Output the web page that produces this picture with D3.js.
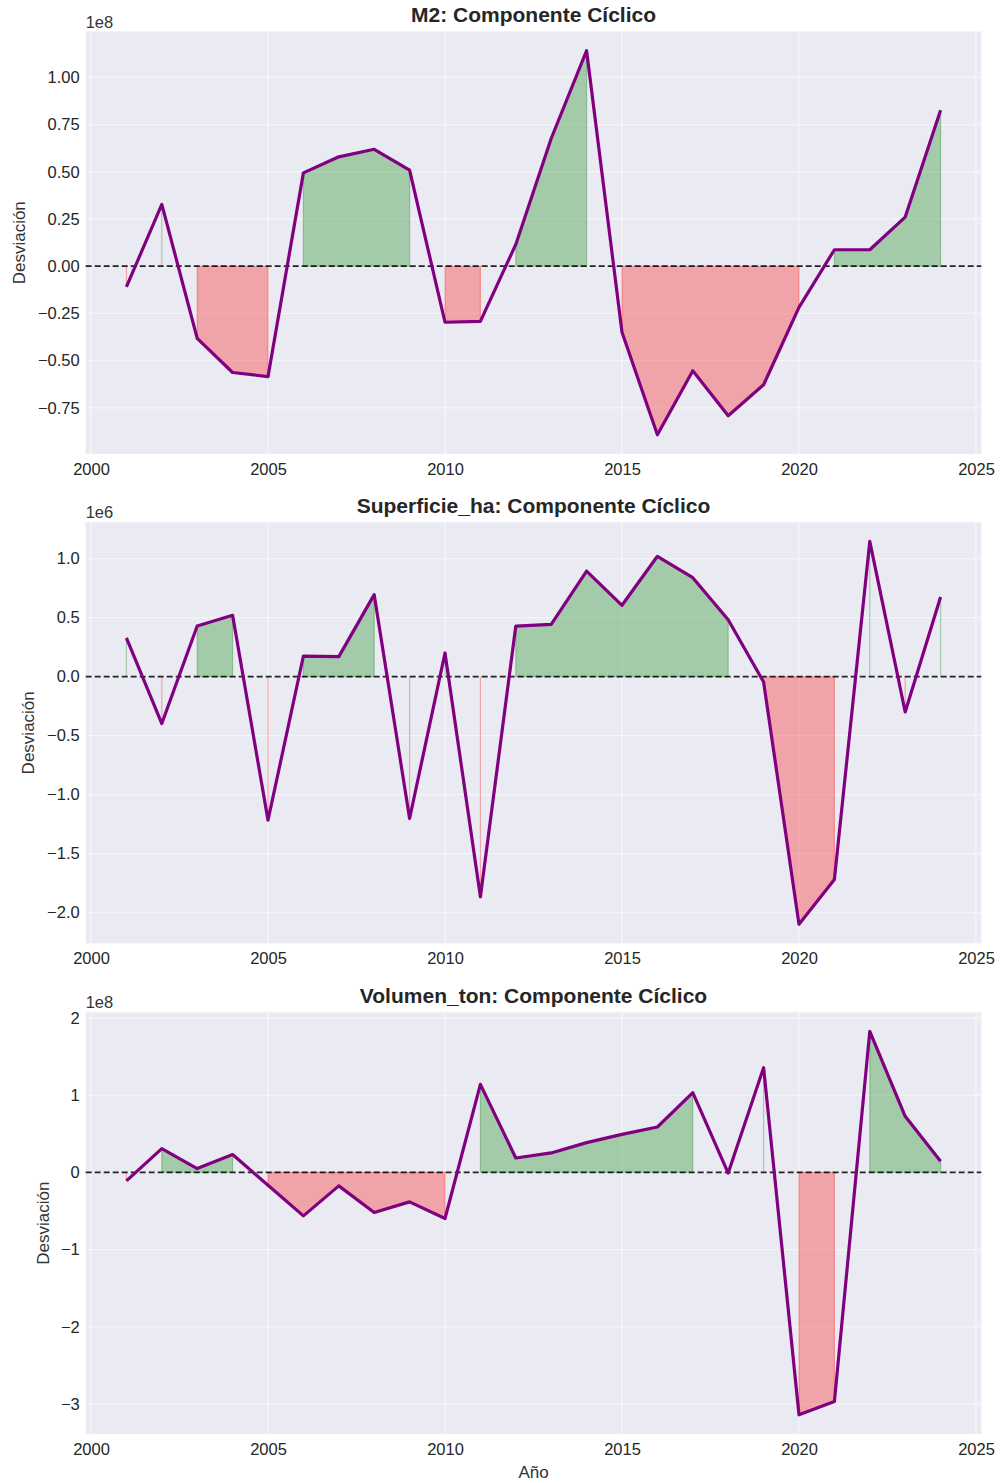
<!DOCTYPE html>
<html>
<head>
<meta charset="utf-8">
<script src="https://cdn.jsdelivr.net/npm/d3@7"></script>
<style>
  html, body { margin: 0; padding: 0; background: #ffffff; }
  svg { display: block; }
  text { font-family: "Liberation Sans", Arial, sans-serif; fill: #262626; }
</style>
</head>
<body>
<svg id="chart" width="1000" height="1483"></svg>
<script>
// ---------------- DATA ----------------
const years = [2001,2002,2003,2004,2005,2006,2007,2008,2009,2010,2011,2012,
               2013,2014,2015,2016,2017,2018,2019,2020,2021,2022,2023,2024];

// M2 cyclical component (units of 1e8)
const m2Cycle = [-0.11, 0.327, -0.382, -0.563, -0.585, 0.494, 0.579, 0.619, 0.508, -0.297, -0.292, 0.115,
                 0.676, 1.141, -0.350, -0.893, -0.554, -0.792, -0.628, -0.218, 0.087, 0.087, 0.260, 0.826];

// Superficie_ha cyclical component (units of 1e6)
const superficieCycle = [0.328, -0.397, 0.429, 0.520, -1.216, 0.175, 0.170, 0.695, -1.202, 0.201, -1.865, 0.429,
                         0.444, 0.895, 0.605, 1.020, 0.839, 0.483, -0.045, -2.097, -1.718, 1.146, -0.299, 0.675];

// Volumen_ton cyclical component (units of 1e8)
const volumenCycle = [-0.111, 0.307, 0.049, 0.230, -0.167, -0.563, -0.175, -0.520, -0.382, -0.597, 1.138, 0.186,
                      0.251, 0.385, 0.492, 0.587, 1.031, -0.010, 1.354, -3.138, -2.966, 1.823, 0.725, 0.143];

const panelTitles = ["M2: Componente Cíclico", "Superficie_ha: Componente Cíclico", "Volumen_ton: Componente Cíclico"];
const offsetLabels = ["1e8", "1e6", "1e8"];
const yTicks1 = [-0.75, -0.5, -0.25, 0, 0.25, 0.5, 0.75, 1.0];
const yTicks2 = [-2.0, -1.5, -1.0, -0.5, 0, 0.5, 1.0];
const yTicks3 = [-3, -2, -1, 0, 1, 2];
const yTickDecimals = [2, 1, 0];
const xTicks = [2000, 2005, 2010, 2015, 2020, 2025];
const yLabel = "Desviación";
const xLabel = "Año";

// ---------------- LAYOUT ----------------
const svg = d3.select("#chart");
const plotLeft = 85.7, plotRight = 981.3;
const panels = [
  { top: 31.5,   bottom: 454,    values: m2Cycle,         ticks: yTicks1, ylabX: 19 },
  { top: 522.3,  bottom: 943.3,  values: superficieCycle, ticks: yTicks2, ylabX: 27.5 },
  { top: 1012.3, bottom: 1434,   values: volumenCycle,    ticks: yTicks3, ylabX: 43 }
];

const bg = "#EAEAF2";
const lineColor = "#800080";
const greenFill = "rgba(0,128,0,0.3)";
const redFill = "rgba(255,0,0,0.3)";
const tickFont = 16.5;
const textColor = "#333333";

const minus = s => s.replace(/-/g, "\u2212");

panels.forEach((p, i) => {
  const data = years.map((yr, k) => ({ x: yr, v: p.values[k] }));
  const xExt = d3.extent(years);
  const xPad = (xExt[1] - xExt[0]) * 0.05;
  const x = d3.scaleLinear().domain([xExt[0] - xPad, xExt[1] + xPad]).range([plotLeft, plotRight]);
  const yExt = d3.extent(p.values);
  const yPad = (yExt[1] - yExt[0]) * 0.05;
  const y = d3.scaleLinear().domain([yExt[0] - yPad, yExt[1] + yPad]).range([p.bottom, p.top]);

  const g = svg.append("g");

  // background
  g.append("rect")
    .attr("x", plotLeft).attr("y", p.top)
    .attr("width", plotRight - plotLeft).attr("height", p.bottom - p.top)
    .attr("fill", bg);

  // gridlines (faint)
  g.selectAll(".gx").data(xTicks).enter().append("line")
    .attr("x1", d => x(d)).attr("x2", d => x(d))
    .attr("y1", p.top).attr("y2", p.bottom)
    .attr("stroke", "#ffffff").attr("stroke-width", 1.3).attr("stroke-opacity", 0.5);
  g.selectAll(".gy").data(p.ticks).enter().append("line")
    .attr("x1", plotLeft).attr("x2", plotRight)
    .attr("y1", d => y(d)).attr("y2", d => y(d))
    .attr("stroke", "#ffffff").attr("stroke-width", 1.3).attr("stroke-opacity", 0.5);

  // fills
  const areaPos = d3.area().defined(d => d.v > 0)
    .x(d => x(d.x)).y0(y(0)).y1(d => y(d.v));
  const areaNeg = d3.area().defined(d => d.v < 0)
    .x(d => x(d.x)).y0(y(0)).y1(d => y(d.v));
  g.append("path").attr("d", areaPos(data))
    .attr("fill", greenFill).attr("stroke", greenFill).attr("stroke-width", 1.2);
  g.append("path").attr("d", areaNeg(data))
    .attr("fill", redFill).attr("stroke", redFill).attr("stroke-width", 1.2);

  // zero line
  g.append("line")
    .attr("x1", plotLeft).attr("x2", plotRight)
    .attr("y1", y(0)).attr("y2", y(0))
    .attr("stroke", "#000000").attr("stroke-width", 1.8)
    .attr("stroke-dasharray", "6,3").attr("opacity", 0.85);

  // main line
  const line = d3.line().x(d => x(d.x)).y(d => y(d.v));
  g.append("path").attr("d", line(data))
    .attr("fill", "none").attr("stroke", lineColor)
    .attr("stroke-width", 3.2).attr("stroke-linejoin", "round").attr("stroke-linecap", "butt");

  // x axis
  const xAxis = d3.axisBottom(x).tickValues(xTicks).tickFormat(d3.format("d")).tickSize(0).tickPadding(9);
  const gx = g.append("g").attr("transform", `translate(0,${p.bottom})`).call(xAxis);
  gx.select(".domain").remove();
  gx.selectAll("text").style("font-size", tickFont + "px").attr("fill", textColor)
    .style("font-family", '"Liberation Sans", Arial, sans-serif');

  // y axis
  const fmt = d3.format("." + yTickDecimals[i] + "f");
  const yAxis = d3.axisLeft(y).tickValues(p.ticks).tickFormat(d => minus(fmt(d))).tickSize(0).tickPadding(6);
  const gy = g.append("g").attr("transform", `translate(${plotLeft},0)`).call(yAxis);
  gy.select(".domain").remove();
  gy.selectAll("text").style("font-size", tickFont + "px").attr("fill", textColor)
    .style("font-family", '"Liberation Sans", Arial, sans-serif');

  // offset label
  g.append("text").attr("x", plotLeft).attr("y", p.top - 4)
    .style("font-size", tickFont + "px").style("fill", textColor).text(offsetLabels[i]);

  // title
  g.append("text").attr("x", (plotLeft + plotRight) / 2).attr("y", p.top - 9.5)
    .attr("text-anchor", "middle").style("font-size", "21px").style("font-weight", "bold")
    .text(panelTitles[i]);

  // y label
  g.append("text")
    .attr("transform", `translate(${p.ylabX + 6},${(p.top + p.bottom) / 2}) rotate(-90)`)
    .attr("text-anchor", "middle").style("font-size", "17px").style("fill", textColor).text(yLabel);
});

// x label
svg.append("text").attr("x", (plotLeft + plotRight) / 2).attr("y", 1478)
  .attr("text-anchor", "middle").style("font-size", "17px").style("fill", textColor).text(xLabel);
</script>
</body>
</html>
